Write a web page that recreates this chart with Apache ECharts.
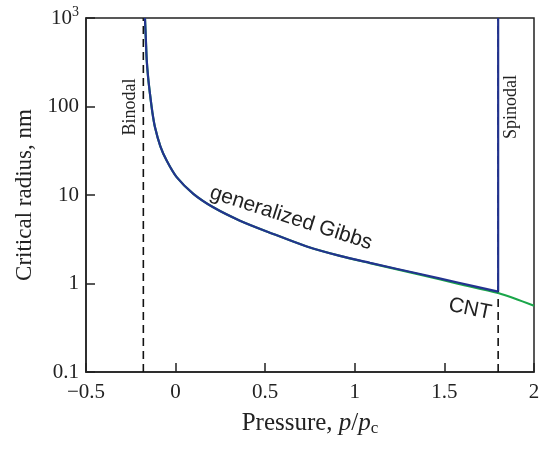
<!DOCTYPE html>
<html>
<head>
<meta charset="utf-8">
<script src="https://cdn.jsdelivr.net/npm/echarts@6/dist/echarts.min.js"></script>
<style>
  html, body { margin: 0; padding: 0; background: #fff; }
  #chart { width: 548px; height: 450px; }
</style>
</head>
<body>
<div id="chart"></div>
<script>
// generalized Gibbs curve (p/pc, radius nm)
const gibbsP = [-0.171, -0.166, -0.161, -0.153, -0.143, -0.130, -0.115, -0.085, -0.050, 0.006, 0.099, 0.210, 0.359, 0.545, 0.732, 0.917, 1.085, 1.364, 1.58, 1.8];
const gibbsR = [1000, 575, 331, 210, 139, 87, 58.3, 35.5, 24.5, 15.9, 10.3, 7.26, 5.13, 3.63, 2.62, 2.05, 1.71, 1.28, 1.02, 0.81];
// vertical branch at the spinodal
const gibbsSpinP = [1.8, 1.8];
const gibbsSpinR = [0.81, 1000];

// classical nucleation theory
const cntP = [-0.171, -0.166, -0.161, -0.153, -0.143, -0.130, -0.115, -0.085, -0.050, 0.006, 0.099, 0.210, 0.359, 0.545, 0.732, 0.917, 1.085, 1.364, 1.58, 1.8, 2.0];
const cntR = [1000, 575, 331, 210, 139, 87, 58.3, 35.5, 24.5, 15.9, 10.3, 7.26, 5.13, 3.63, 2.62, 2.05, 1.70, 1.26, 0.99, 0.78, 0.56];

const binodalP = -0.18;
const spinodalP = 1.8;
const rRange = [0.1, 1000];

const xTicks = [-0.5, 0, 0.5, 1, 1.5, 2];

const serif = '"Liberation Serif", "DejaVu Serif", serif';
const sans = '"Liberation Sans", Arial, sans-serif';

const zip = (a, b) => a.map((v, i) => [v, b[i]]);

const chart = echarts.init(document.getElementById('chart'));

const curveLine = (name, p, r, color, z) => ({
    name: name,
    type: 'line',
    data: zip(p, r),
    smooth: 0.3,
    showSymbol: false,
    lineStyle: {color: color, width: 2.2},
    z: z
});

const dashed = (p) => ({
    type: 'line',
    data: [[p, rRange[0]], [p, rRange[1]]],
    showSymbol: false,
    lineStyle: {color: '#111', width: 1.6, type: [8, 5]},
    z: 1
});

chart.setOption({
    animation: false,
    grid: {
        left: 86,
        right: 14,
        top: 18,
        bottom: 78,
        show: true,
        borderColor: '#222',
        borderWidth: 1.5
    },
    xAxis: {
        type: 'value',
        min: -0.5,
        max: 2,
        interval: 0.5,
        name: '{t|Pressure, }{i|p}{t|/}{i|p}{s|c}',
        nameLocation: 'middle',
        nameGap: 38,
        nameTextStyle: {
            rich: {
                t: {fontFamily: serif, fontSize: 25, color: '#222'},
                i: {fontFamily: serif, fontSize: 25, fontStyle: 'italic', color: '#222'},
                s: {fontFamily: serif, fontSize: 17, color: '#222', padding: [10, 0, 0, 0]}
            }
        },
        axisLine: {show: true, onZero: false, lineStyle: {color: '#222', width: 1.5}},
        axisTick: {show: true, inside: true, length: 9, lineStyle: {color: '#222', width: 1.5}},
        splitLine: {show: false},
        axisLabel: {
            fontFamily: serif,
            fontSize: 21,
            color: '#222',
            margin: 10,
            formatter: v => (xTicks.includes(v) ? String(v).replace('-', '\u2212') : '')
        }
    },
    yAxis: {
        type: 'log',
        logBase: 10,
        min: 0.1,
        max: 1000,
        name: 'Critical radius, nm',
        nameLocation: 'middle',
        nameGap: 50,
        nameTextStyle: {fontFamily: serif, fontSize: 23, color: '#222'},
        axisLine: {show: true, onZero: false, lineStyle: {color: '#222', width: 1.5}},
        axisTick: {show: true, inside: true, length: 9, lineStyle: {color: '#222', width: 1.5}},
        minorTick: {show: false},
        splitLine: {show: false},
        axisLabel: {
            fontFamily: serif,
            fontSize: 21,
            color: '#222',
            margin: 7,
            formatter: v => (v >= 999 ? '10{sup|3}' : (v < 0.5 ? '0.1' : String(Math.round(v)))),
            rich: {
                sup: {fontFamily: serif, fontSize: 14, color: '#222', padding: [0, 0, 12, 0]}
            }
        }
    },
    series: [
        dashed(binodalP),
        dashed(spinodalP),
        curveLine('CNT', cntP, cntR, '#1aa64a', 2),
        curveLine('generalized Gibbs', gibbsP, gibbsR, '#23338f', 3),
        {
            type: 'line',
            data: zip(gibbsSpinP, gibbsSpinR),
            showSymbol: false,
            lineStyle: {color: '#23338f', width: 2.2},
            z: 3
        }
    ],
    graphic: [
        {
            type: 'text', x: 130, y: 107, rotation: Math.PI / 2,
            style: {text: 'Binodal', font: '18px ' + serif, fill: '#222', align: 'center', verticalAlign: 'middle'}
        },
        {
            type: 'text', x: 511, y: 107, rotation: Math.PI / 2,
            style: {text: 'Spinodal', font: '18px ' + serif, fill: '#222', align: 'center', verticalAlign: 'middle'}
        },
        {
            type: 'text', x: 291, y: 218, rotation: -0.31,
            style: {text: 'generalized Gibbs', font: '21px ' + sans, fill: '#222', align: 'center', verticalAlign: 'middle'}
        },
        {
            type: 'text', x: 470, y: 309, rotation: -0.2,
            style: {text: 'CNT', font: '21px ' + sans, fill: '#222', align: 'center', verticalAlign: 'middle'}
        }
    ]
});
</script>
</body>
</html>
